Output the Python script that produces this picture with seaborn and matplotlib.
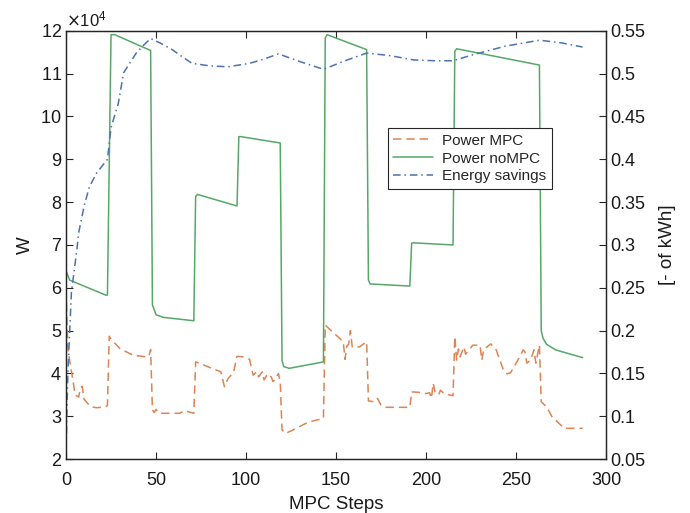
import matplotlib
matplotlib.use("Agg")
import matplotlib.pyplot as plt
import seaborn as sns
import numpy as np
import pandas as pd

# ---- data ----
# Power MPC [W], vertices (MPC step, value)
mpc_steps = [0, 1, 2, 4, 5, 7, 8, 9, 10, 12, 14, 17, 22, 23, 24, 25, 30, 37, 44, 46, 47,
             48, 49, 50, 52, 63, 66, 71, 72, 74, 81, 86, 88, 90, 93, 95, 98, 102, 103, 104,
             106, 107, 109, 110, 112, 114, 115, 116, 118, 119, 120, 122, 126, 133, 137, 143,
             144, 146, 152, 154, 155, 156, 157, 158, 159, 163, 167, 168, 171, 173, 175, 178,
             191, 192, 196, 200, 202, 203, 204, 205, 207, 208, 210, 215, 216, 217, 218, 219,
             221, 222, 226, 230, 231, 232, 235, 236, 239, 241, 243, 245, 247, 249, 251, 254,
             255, 256, 258, 260, 261, 263, 264, 267, 270, 275, 277, 287]
mpc_power = [59500, 46000, 43000, 38000, 35000, 34500, 36500, 37000, 34000, 33000, 32200,
             32000, 32200, 32500, 48700, 48000, 45800, 44300, 43900, 44000, 45600,
             31500, 30900, 31600, 30700, 30700, 31300, 30700, 42700, 42400, 41200, 40400,
             36900, 38800, 40200, 44000, 43900, 43300, 41200, 39600, 40400, 39200, 40400,
             38500, 39900, 39200, 38100, 38500, 40000, 38100, 26800, 26000, 26800, 28300,
             28900, 29500, 51300, 50500, 48200, 47400, 43300, 46400, 46800, 50000, 46200,
             46200, 47400, 33600, 33400, 34200, 32600, 32100, 32100, 35700, 35600, 35300,
             35500, 34200, 37700, 35700, 35000, 36100, 35300, 34800, 48600, 43100, 45700,
             43900, 46200, 44500, 46600, 46600, 43100, 45500, 46600, 46900, 45500, 43100,
             40800, 39900, 40200, 41600, 43100, 45500, 45000, 42400, 43100, 45500, 42400,
             46600, 33400, 32200, 29900, 27900, 27200, 27200]

# Power noMPC [W]
nompc_steps = [0, 2, 22, 23, 25, 27, 47, 48, 50, 54, 71, 72, 73, 95, 96, 97, 119, 120, 121,
               124, 143, 144, 145, 167, 168, 169, 191, 192, 193, 215, 216, 217, 263, 264,
               265, 267, 272, 287]
nompc_power = [64000, 61800, 58300, 58300, 119100, 119100, 115400, 56000, 53700, 53100,
               52300, 81300, 81800, 79100, 95300, 95300, 93800, 43000, 41600, 41200,
               42700, 118300, 119100, 115600, 61800, 60900, 60400, 70400, 70500, 70000,
               115200, 115800, 112000, 50000, 48200, 46800, 45500, 43700]

# Energy savings [- of kWh]
sav_steps = [0, 1, 3, 6, 7, 10, 13, 17, 23, 25, 29, 32, 39, 43, 47, 53, 59, 65, 70, 80,
             90, 102, 110, 118, 130, 143, 155, 167, 180, 193, 205, 215, 226, 244, 263, 275, 287]
sav_vals = [0.06, 0.15, 0.245, 0.294, 0.314, 0.345, 0.368, 0.384, 0.400, 0.437, 0.465,
            0.501, 0.524, 0.533, 0.541, 0.535, 0.528, 0.519, 0.512, 0.509, 0.508, 0.512,
            0.517, 0.523, 0.514, 0.505, 0.515, 0.524, 0.521, 0.516, 0.515, 0.515, 0.522,
            0.532, 0.539, 0.536, 0.531]

labels = ["Power MPC", "Power noMPC", "Energy savings"]
x_ticks = [0, 50, 100, 150, 200, 250, 300]
left_ticks = [20000, 30000, 40000, 50000, 60000, 70000, 80000, 90000, 100000, 110000, 120000]
right_ticks = [0.05, 0.1, 0.15, 0.2, 0.25, 0.3, 0.35, 0.4, 0.45, 0.5, 0.55]

# ---- styling ----
sns.set_theme(style="white")
plt.rcParams["font.family"] = ["Liberation Sans", "DejaVu Sans"]
pal = sns.color_palette("deep")
c_blue, c_orange, c_green = pal[0], pal[1], pal[2]
edge = "#262626"

fig = plt.figure(figsize=(6.9, 5.13), dpi=100)
ax = fig.add_axes([0.0957, 0.105, 0.7826, 0.835])
ax2 = ax.twinx()

df_mpc = pd.DataFrame({"step": mpc_steps, "val": mpc_power})
df_nompc = pd.DataFrame({"step": nompc_steps, "val": nompc_power})
df_sav = pd.DataFrame({"step": sav_steps, "val": sav_vals})

sns.lineplot(data=df_mpc, x="step", y="val", ax=ax, color=c_orange, lw=1.1,
             label=labels[0], legend=False)
ax.lines[-1].set_dashes((5.5, 3.2))
sns.lineplot(data=df_nompc, x="step", y="val", ax=ax, color=c_green, lw=1.1,
             label=labels[1], legend=False)
sns.lineplot(data=df_sav, x="step", y="val", ax=ax2, color=c_blue, lw=1.1,
             label=labels[2], legend=False)
ax2.lines[-1].set_linestyle((0, (5, 2.5, 1, 2.5)))

ax.set_xlim(0, 300)
ax.set_ylim(20000, 120000)
ax2.set_ylim(0.05, 0.55)
ax.set_xticks(x_ticks)
ax.set_yticks(left_ticks)
ax2.set_yticks(right_ticks)
ax2.set_yticklabels([f"{t:g}" for t in right_ticks])

ax.ticklabel_format(axis="y", style="sci", scilimits=(4, 4), useMathText=True)
ax.yaxis.get_offset_text().set_fontsize(12)
ax.yaxis.get_offset_text().set_color("#1a1a1a")

ax.set_xlabel("MPC Steps", fontsize=13.5, color="#1a1a1a", labelpad=5)
ax.set_ylabel("W", fontsize=13.5, color="#1a1a1a", labelpad=5)
ax2.set_ylabel("[- of kWh]", fontsize=13.5, color="#1a1a1a", labelpad=10)

for a in (ax, ax2):
    for s in a.spines.values():
        s.set_color(edge)
        s.set_linewidth(0.9)
    a.tick_params(direction="in", length=5, width=0.8, color=edge,
                  labelsize=13, labelcolor="#1a1a1a", pad=3)
ax.tick_params(axis="x", top=True, bottom=True, pad=9)
ax.tick_params(axis="y", left=True, right=False)
ax2.tick_params(axis="y", right=True, left=False)

handles = ax.lines[:2] + ax2.lines[:1]
leg = ax.legend(handles, labels, loc="upper left", bbox_to_anchor=(0.596, 0.772),
                frameon=True, fancybox=False, fontsize=11, borderaxespad=0,
                handlelength=2.6, handletextpad=0.6, borderpad=0.35, labelspacing=0.25)
leg.get_frame().set_edgecolor(edge)
leg.get_frame().set_linewidth(0.8)
leg.get_frame().set_alpha(1)

fig.savefig("out.png", dpi=100)
